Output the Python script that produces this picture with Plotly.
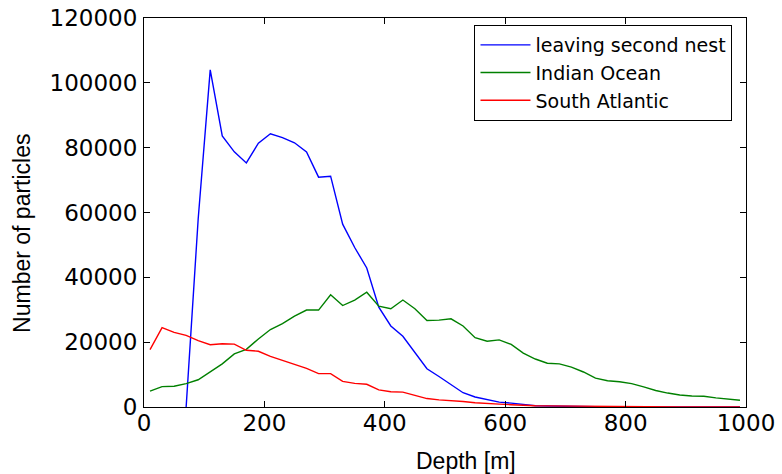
import plotly.graph_objects as go

depth = list(range(10, 1000, 20))

leaving_second_nest = [None, None, None, 0, 58000, 104000, 83600, 78700, 75300, 81400,
                       84300, 83100, 81500, 78700, 70900, 71200, 56400, 49200, 42900, 30800,
                       25000, 21800, 16900, 11800, 9400, 7000, 4400, 3100, 2400, 1500,
                       1200, 700, 400, 300, 200, 150, 100, 80, 50, 30,
                       20, 20, 15, 10, 10, 10, 5, 5, 5, 5]

indian_ocean = [4900, 6300, 6400, 7200, 8400, 10800, 13300, 16400, 17800, 21000,
                23900, 25700, 28000, 29900, 29900, 34600, 31300, 33000, 35400, 31100,
                30300, 33000, 30300, 26700, 26800, 27200, 25000, 21400, 20300, 20700,
                19300, 16600, 14800, 13500, 13300, 12300, 10800, 8900, 8100, 7800,
                7200, 6200, 5100, 4300, 3700, 3400, 3300, 2800, 2400, 2100]

south_atlantic = [17700, 24500, 23000, 22100, 20500, 19200, 19500, 19400, 17500, 17200,
                  15600, 14300, 13100, 11900, 10300, 10300, 7900, 7300, 7000, 5300,
                  4700, 4600, 3600, 2600, 2200, 2000, 1700, 1300, 1000, 900,
                  700, 500, 400, 350, 300, 250, 200, 150, 120, 100,
                  80, 60, 50, 40, 30, 30, 20, 20, 10, 10]

names = ["leaving second nest", "Indian Ocean", "South Atlantic"]
colors = ["#0000ff", "#008000", "#ff0000"]
series = [leaving_second_nest, indian_ocean, south_atlantic]

x_ticks = [0, 200, 400, 600, 800, 1000]
y_ticks = [0, 20000, 40000, 60000, 80000, 100000, 120000]

fig = go.Figure()
for name, color, vals in zip(names, colors, series):
    fig.add_trace(go.Scatter(x=depth, y=vals, mode="lines", name=name,
                             line=dict(color=color, width=1.4)))

axis_common = dict(showline=True, linecolor="black", linewidth=1, mirror="ticks",
                   ticks="inside", ticklen=6, tickcolor="black", tickwidth=1,
                   showgrid=False, zeroline=False, automargin=False,
                   tickfont=dict(family="DejaVu Sans", size=23, color="black"))

fig.update_xaxes(range=[0, 1000], tickvals=x_ticks, ticktext=[str(v) for v in x_ticks],
                 ticklabelstandoff=-5, **axis_common)
fig.update_yaxes(range=[0, 120000], tickvals=y_ticks, ticktext=[str(v) for v in y_ticks],
                 ticklabelstandoff=1, **axis_common)

fig.add_annotation(text="Depth [m]", xref="paper", yref="paper", x=0.535, y=-0.14,
                   xanchor="center", yanchor="middle", showarrow=False,
                   font=dict(family="Liberation Sans", size=23, color="black"))
fig.add_annotation(text="Number of particles", xref="paper", yref="paper", x=-0.203, y=0.447,
                   xanchor="center", yanchor="middle", showarrow=False, textangle=-90,
                   font=dict(family="Liberation Sans", size=23, color="black"))

fig.update_layout(
    width=782, height=474,
    margin=dict(l=144, r=36, t=18, b=67),
    plot_bgcolor="white", paper_bgcolor="white",
    showlegend=True,
    legend=dict(x=0.549, y=0.982, xanchor="left", yanchor="top", itemwidth=50,
                bordercolor="black", borderwidth=1, bgcolor="white",
                font=dict(family="DejaVu Sans", size=19, color="black")),
)

fig.write_html("out.html")
